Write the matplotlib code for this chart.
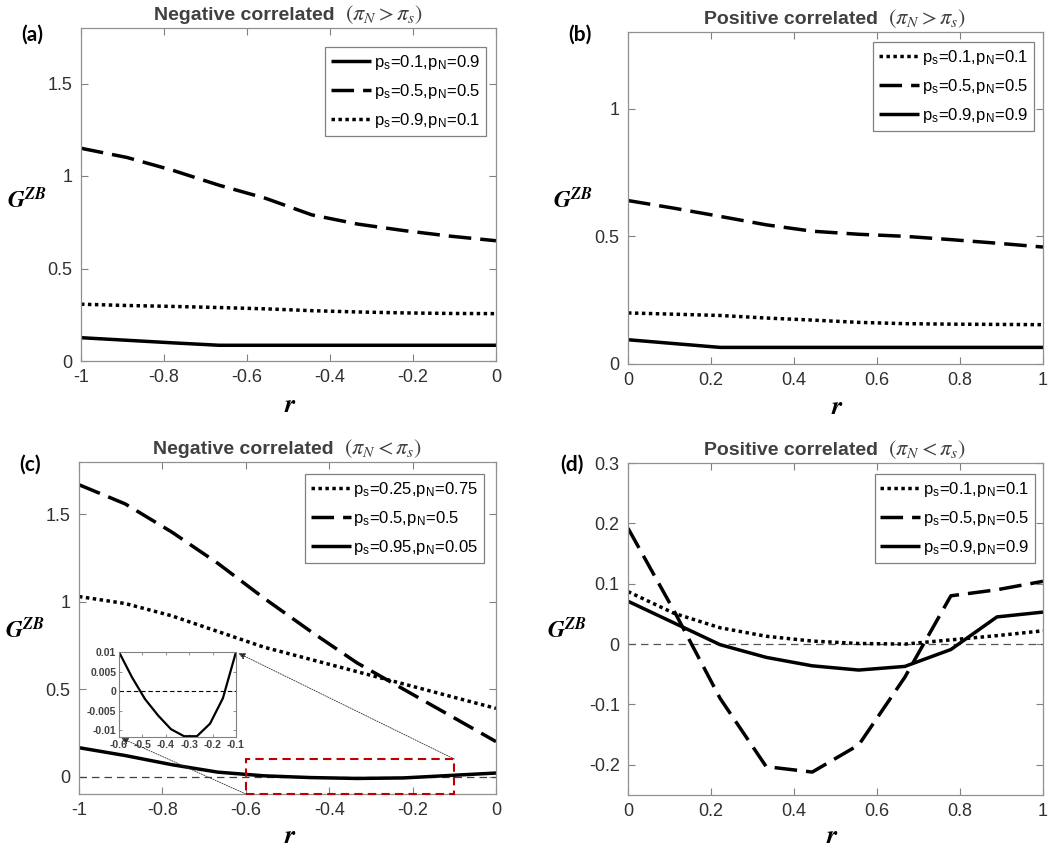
import matplotlib
matplotlib.use('Agg')
import matplotlib.pyplot as plt
from matplotlib.patches import Rectangle, ConnectionPatch

plt.rcParams['font.family'] = ['Liberation Sans', 'DejaVu Sans']
plt.rcParams['mathtext.fontset'] = 'stix'
plt.rcParams['axes.unicode_minus'] = False

# r grids
r_neg = [-1.0, -0.889, -0.778, -0.667, -0.556, -0.444, -0.333, -0.222, -0.111, 0.0]
r_pos = [0.0, 0.111, 0.222, 0.333, 0.444, 0.556, 0.667, 0.778, 0.889, 1.0]

# (a) negative correlated, pi_N > pi_s
a_solid = [0.126, 0.112, 0.098, 0.085, 0.085, 0.085, 0.085, 0.085, 0.085, 0.085]
a_dashed = [1.15, 1.10, 1.03, 0.95, 0.88, 0.79, 0.74, 0.705, 0.675, 0.65]
a_dotted = [0.307, 0.300, 0.295, 0.289, 0.282, 0.272, 0.265, 0.260, 0.257, 0.256]
a_labels = ['p$_\\mathregular{s}$=0.1,p$_\\mathregular{N}$=0.9',
            'p$_\\mathregular{s}$=0.5,p$_\\mathregular{N}$=0.5',
            'p$_\\mathregular{s}$=0.9,p$_\\mathregular{N}$=0.1']

# (b) positive correlated, pi_N > pi_s
b_dotted = [0.200, 0.195, 0.190, 0.180, 0.172, 0.163, 0.158, 0.156, 0.155, 0.154]
b_dashed = [0.64, 0.61, 0.578, 0.545, 0.52, 0.508, 0.50, 0.487, 0.473, 0.458]
b_solid = [0.095, 0.080, 0.065, 0.065, 0.065, 0.065, 0.065, 0.065, 0.065, 0.065]
b_labels = ['p$_\\mathregular{s}$=0.1,p$_\\mathregular{N}$=0.1',
            'p$_\\mathregular{s}$=0.5,p$_\\mathregular{N}$=0.5',
            'p$_\\mathregular{s}$=0.9,p$_\\mathregular{N}$=0.9']

# (c) negative correlated, pi_N < pi_s
c_dotted = [1.03, 0.99, 0.92, 0.83, 0.74, 0.67, 0.60, 0.53, 0.46, 0.39]
c_dashed = [1.67, 1.56, 1.40, 1.22, 1.02, 0.83, 0.65, 0.50, 0.35, 0.20]
c_solid = [0.165, 0.120, 0.068, 0.025, 0.004, -0.006, -0.011, -0.008, 0.006, 0.020]
c_labels = ['p$_\\mathregular{s}$=0.25,p$_\\mathregular{N}$=0.75',
            'p$_\\mathregular{s}$=0.5,p$_\\mathregular{N}$=0.5',
            'p$_\\mathregular{s}$=0.95,p$_\\mathregular{N}$=0.05']

# zoomed part of the solid curve in (c)
r_zoom = [-0.6, -0.544, -0.489, -0.433, -0.378, -0.322, -0.267, -0.211, -0.156, -0.1]
c_zoom = [0.01, 0.0035, -0.002, -0.0062, -0.0097, -0.0115, -0.0115, -0.0083, -0.0018, 0.01]
zoom_xticks = [-0.6, -0.5, -0.4, -0.3, -0.2, -0.1]
zoom_yticks = [-0.01, -0.005, 0, 0.005, 0.01]

# (d) positive correlated, pi_N < pi_s
d_dotted = [0.087, 0.051, 0.027, 0.013, 0.005, 0.001, 0.0, 0.007, 0.014, 0.022]
d_dashed = [0.192, 0.055, -0.090, -0.203, -0.212, -0.167, -0.055, 0.080, 0.090, 0.104]
d_solid = [0.071, 0.035, -0.001, -0.022, -0.036, -0.043, -0.037, -0.009, 0.045, 0.053]
d_labels = b_labels

W, H = 1060, 851
fig = plt.figure(figsize=(W / 100, H / 100), dpi=100)
renderer = fig.canvas.get_renderer()

def px_axes(left, top, right, bottom):
    return fig.add_axes([left / W, 1 - bottom / H, (right - left) / W, (bottom - top) / H])

LW = 2.5
SOLID = dict(color='black', lw=LW, solid_capstyle='butt')
DASHED = dict(color='black', lw=LW, dashes=(6.5, 2.6), dash_capstyle='butt')
DOTTED = dict(color='black', lw=LW, dashes=(1, 1), dash_capstyle='butt')

def style(ax, xlim, ylim, xticks, yticks):
    ax.set_xlim(xlim)
    ax.set_ylim(ylim)
    ax.set_xticks(xticks)
    ax.set_yticks(yticks)
    ax.set_xticklabels(['%g' % t for t in xticks])
    ax.set_yticklabels(['%g' % t for t in yticks])
    ax.tick_params(direction='in', top=True, right=True, length=5, width=0.8,
                   color='#808080', labelsize=13, labelcolor='#303030', pad=6)
    for s in ax.spines.values():
        s.set_color('#909090')
        s.set_linewidth(0.9)

def legend(ax, handles, labels, x, y):
    lg = ax.legend(handles, labels, loc='upper right', bbox_to_anchor=(x, y),
                   borderaxespad=0, fontsize=12, handlelength=2.4, handletextpad=0.15,
                   labelspacing=0.6, borderpad=0.35, fancybox=False, framealpha=1,
                   edgecolor='#808080')
    lg.get_frame().set_linewidth(0.9)

def title(ax, words, math):
    # bold sans words followed by a larger serif math part, centred together
    bbox = ax.get_window_extent()
    y_px = bbox.y1 + 8
    t1 = fig.text(0, y_px / H, words, fontsize=14, fontweight='bold', color='#404040',
                  ha='left', va='baseline')
    t2 = fig.text(0, y_px / H, math, fontsize=16, color='#404040', ha='left', va='baseline')
    w1 = t1.get_window_extent(renderer).width
    w2 = t2.get_window_extent(renderer).width
    gap = 10
    x0 = (bbox.x0 + bbox.x1) / 2 - (w1 + gap + w2) / 2
    t1.set_x(x0 / W)
    t2.set_x((x0 + w1 + gap) / W)

def deco(label, lab_xy, gxy, rxy):
    fig.text(lab_xy[0] / W, 1 - lab_xy[1] / H, label, fontsize=15, fontweight='bold',
             ha='center', va='center', family=['Lato', 'DejaVu Sans'])
    fig.text(gxy[0] / W, 1 - gxy[1] / H, r'$\mathbfit{G}^{\mathbfit{ZB}}$', fontsize=17,
             ha='center', va='center')
    fig.text(rxy[0] / W, 1 - rxy[1] / H, r'$\mathbfit{r}$', fontsize=19,
             ha='center', va='center')

# (a)
ax_a = px_axes(81, 28, 496, 361)
h1, = ax_a.plot(r_neg, a_solid, **SOLID)
h2, = ax_a.plot(r_neg, a_dashed, **DASHED)
h3, = ax_a.plot(r_neg, a_dotted, **DOTTED)
style(ax_a, (-1, 0), (0, 1.8), [-1, -0.8, -0.6, -0.4, -0.2, 0], [0, 0.5, 1, 1.5])
legend(ax_a, [h1, h2, h3], a_labels, 0.976, 0.943)
title(ax_a, 'Negative correlated', '$(\\pi_N > \\pi_s)$')
deco('(a)', (32, 35), (27, 200), (290, 405))

# (b)
ax_b = px_axes(628, 32, 1043, 364)
h1, = ax_b.plot(r_pos, b_dotted, **DOTTED)
h2, = ax_b.plot(r_pos, b_dashed, **DASHED)
h3, = ax_b.plot(r_pos, b_solid, **SOLID)
style(ax_b, (0, 1), (0, 1.3), [0, 0.2, 0.4, 0.6, 0.8, 1], [0, 0.5, 1])
legend(ax_b, [h1, h2, h3], b_labels, 0.978, 0.97)
title(ax_b, 'Positive correlated', '$(\\pi_N > \\pi_s)$')
deco('(b)', (580, 35), (573, 200), (837, 407))

# (c)
ax_c = px_axes(79, 462, 496, 794)
ax_c.axhline(0, color='#404040', lw=0.9, dashes=(6, 4))
h1, = ax_c.plot(r_neg, c_dotted, **DOTTED)
h2, = ax_c.plot(r_neg, c_dashed, **DASHED)
h3, = ax_c.plot(r_neg, c_solid, **SOLID)
style(ax_c, (-1, 0), (-0.1, 1.8), [-1, -0.8, -0.6, -0.4, -0.2, 0], [0, 0.5, 1, 1.5])
legend(ax_c, [h1, h2, h3], c_labels, 0.971, 0.964)
title(ax_c, 'Negative correlated', '$(\\pi_N < \\pi_s)$')
deco('(c)', (30, 465), (25, 630), (290, 836))

# zoom box and inset
ax_c.add_patch(Rectangle((r_zoom[0], -0.1), r_zoom[-1] - r_zoom[0], 0.2, fill=False,
                         ec='#c00000', lw=1.5, ls=(0, (4, 2.5)), clip_on=False, zorder=5))
ax_in = px_axes(119, 652, 236, 737)
ax_in.axhline(0, color='black', lw=0.8, dashes=(4, 2.5))
ax_in.plot(r_zoom, c_zoom, color='black', lw=1.6)
ax_in.set_xlim(-0.6, -0.1)
ax_in.set_ylim(-0.0117, 0.01)
ax_in.set_xticks(zoom_xticks)
ax_in.set_yticks(zoom_yticks)
ax_in.set_xticklabels(['%g' % t for t in zoom_xticks])
ax_in.set_yticklabels(['%g' % t for t in zoom_yticks])
ax_in.tick_params(direction='in', top=True, right=True, length=2, width=0.6,
                  color='#808080', labelsize=7.5, labelcolor='#404040', pad=2)
for t in ax_in.get_xticklabels() + ax_in.get_yticklabels():
    t.set_fontweight('bold')
for s in ax_in.spines.values():
    s.set_color('#808080')
    s.set_linewidth(0.8)

for xa, xb in [((r_zoom[-1], 0.1), (1, 1)), ((r_zoom[0], -0.1), (0, 0))]:
    con = ConnectionPatch(xyA=xa, coordsA=ax_c.transData, xyB=xb, coordsB=ax_in.transAxes,
                          arrowstyle='-|>', mutation_scale=10, lw=0.6, ls=(0, (1.5, 1.5)),
                          color='#303030', shrinkB=2, zorder=6)
    fig.add_artist(con)

# (d)
ax_d = px_axes(628, 463, 1043, 795)
ax_d.axhline(0, color='#555555', lw=0.9, dashes=(6, 4))
h1, = ax_d.plot(r_pos, d_dotted, **DOTTED)
h2, = ax_d.plot(r_pos, d_dashed, **DASHED)
h3, = ax_d.plot(r_pos, d_solid, **SOLID)
style(ax_d, (0, 1), (-0.25, 0.3), [0, 0.2, 0.4, 0.6, 0.8, 1], [-0.2, -0.1, 0, 0.1, 0.2, 0.3])
legend(ax_d, [h1, h2, h3], d_labels, 0.981, 0.967)
title(ax_d, 'Positive correlated', '$(\\pi_N < \\pi_s)$')
deco('(d)', (572, 465), (567, 630), (832, 836))

fig.savefig('out.png', dpi=100)
